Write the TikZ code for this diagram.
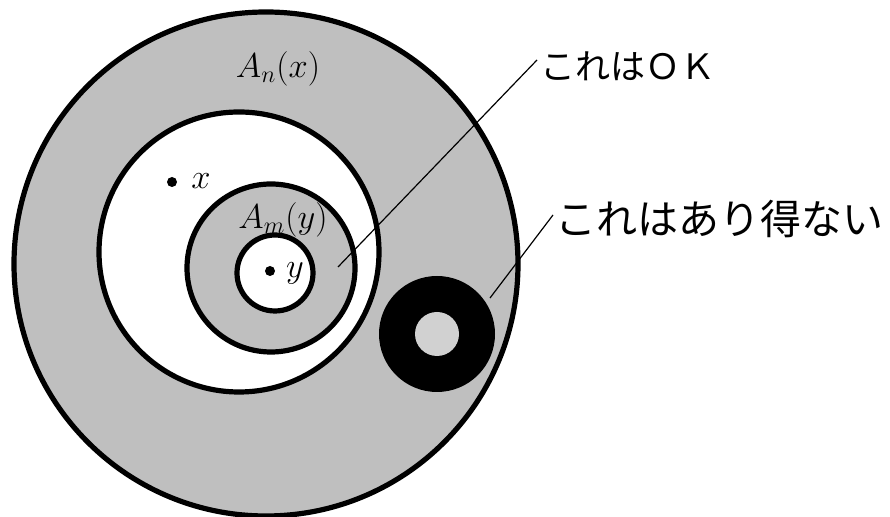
\documentclass[tikz,border=0pt]{standalone}
\usepackage{fontspec}
\newfontfamily\jp{Noto Sans CJK JP}
\begin{document}
\begin{tikzpicture}[x=0.5pt,y=-0.5pt,
  ring/.style={line width=2.6pt},
  grayfill/.style={fill=black!25},
  lead/.style={line width=0.6pt},
  dotm/.style={circle,fill=black,inner sep=0pt,minimum size=5pt},
  mlabel/.style={inner sep=0pt,font=\fontsize{17.5}{21}\selectfont},
  jlabel/.style={inner sep=0pt,anchor=west}]
\useasboundingbox (0,0) rectangle (890,517);
% circles
\filldraw[ring,grayfill] (266,264) circle[radius=126pt];
\filldraw[ring,fill=white] (239,252) circle[radius=70pt];
\filldraw[ring,grayfill] (271,268) circle[radius=42pt];
\filldraw[ring,fill=white] (275,273) circle[radius=19pt];
% donut
\fill[black] (437,334) circle[radius=29pt];
\fill[black!18] (437,334) circle[radius=11pt];
% points
\node[dotm] (px) at (172,182) {};
\node[mlabel] (lx) at (201,181) {$x$};
\node[dotm] (py) at (270,271) {};
\node[mlabel] (ly) at (295,273) {$y$};
% region labels
\node[mlabel] (An) at (278,69) {$A_n(x)$};
\node[mlabel] (Am) at (283,220) {$A_m(y)$};
% texts
\node[jlabel,font=\jp\fontsize{17.5}{20}\selectfont] (t1) at (540,66) {これはＯＫ};
\node[jlabel,font=\jp\fontsize{20.5}{24}\selectfont] (t2) at (555,219) {これはあり得ない};
% leaders
\coordinate (okA) at (338,267);
\coordinate (okB) at (537,60);
\coordinate (ngA) at (490,298);
\coordinate (ngB) at (553,215);
\draw[lead] (okA) -- (okB);
\draw[lead] (ngA) -- (ngB);
\end{tikzpicture}
\end{document}
